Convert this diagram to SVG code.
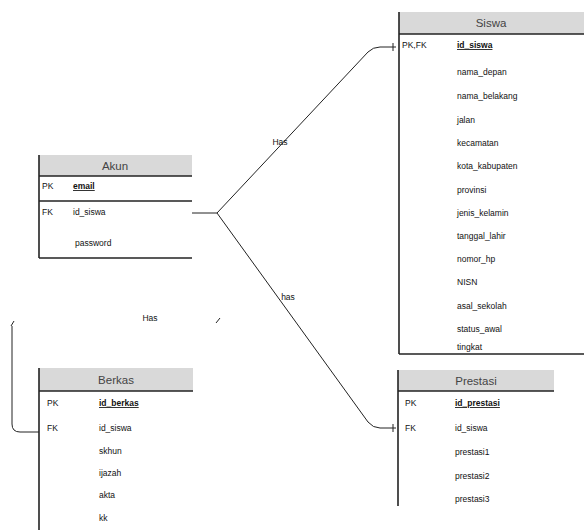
<svg xmlns="http://www.w3.org/2000/svg" width="584" height="530" viewBox="0 0 584 530">
  <style>
    text { font-family: "Liberation Sans", Arial, sans-serif; fill: #111; }
    .title { font-size: 11.5px; text-anchor: middle; fill: #444; }
    .key { font-size: 8.5px; }
    .field { font-size: 8.5px; }
    .pk { text-decoration: underline; font-weight: bold; }
    .head { fill: #d9d9d9; stroke: none; }
    .rule { stroke: #222; stroke-width: 1.6; fill: none; }
    .edge { stroke: #222; stroke-width: 1; fill: none; }
    .lbl { font-size: 8.5px; text-anchor: middle; }
  </style>

  <!-- relationship lines -->
  <g id="connectors">
    <path class="edge" d="M192,213 H217 L368,52 Q373,47 380,47 H396"/>
    <line class="edge" x1="393" y1="43" x2="393" y2="51"/>
    <path class="edge" d="M217,213 L368,422 Q373,428 380,428 H396"/>
    <line class="edge" x1="393" y1="424" x2="393" y2="432"/>
    <path class="edge" d="M12,326 V424 Q12,432 20,432 H39"/>
    <path class="edge" d="M11,326 L14,321"/>
    <path class="edge" d="M216,323 L220,318"/>
    <text class="lbl" x="280" y="145">Has</text>
    <text class="lbl" x="288" y="300">has</text>
    <text class="lbl" x="150" y="321">Has</text>
  </g>

  <!-- Siswa -->
  <g id="siswa">
    <rect class="head" x="399" y="12" width="185" height="22"/>
    <line class="rule" x1="399" y1="12" x2="399" y2="354"/>
    <line class="rule" x1="399" y1="34" x2="584" y2="34"/>
    <line class="rule" x1="399" y1="354" x2="584" y2="354"/>
    <text class="title" x="491" y="27">Siswa</text>
    <text class="key" x="402" y="48">PK,FK</text>
    <text class="field pk" x="457" y="48">id_siswa</text>
    <text class="field" x="457" y="75">nama_depan</text>
    <text class="field" x="457" y="99">nama_belakang</text>
    <text class="field" x="457" y="123">jalan</text>
    <text class="field" x="457" y="146">kecamatan</text>
    <text class="field" x="457" y="169">kota_kabupaten</text>
    <text class="field" x="457" y="193">provinsi</text>
    <text class="field" x="457" y="216">jenis_kelamin</text>
    <text class="field" x="457" y="239">tanggal_lahir</text>
    <text class="field" x="457" y="262">nomor_hp</text>
    <text class="field" x="457" y="285">NISN</text>
    <text class="field" x="457" y="309">asal_sekolah</text>
    <text class="field" x="457" y="332">status_awal</text>
    <text class="field" x="457" y="350">tingkat</text>
  </g>

  <!-- Akun -->
  <g id="akun">
    <rect class="head" x="39" y="155" width="153" height="21"/>
    <line class="rule" x1="39" y1="155" x2="39" y2="258"/>
    <line class="rule" x1="39" y1="176" x2="192" y2="176"/>
    <line class="rule" x1="39" y1="201" x2="192" y2="201"/>
    <line class="rule" x1="39" y1="258" x2="192" y2="258"/>
    <text class="title" x="115" y="170">Akun</text>
    <text class="key" x="42" y="189">PK</text>
    <text class="field pk" x="73" y="189">email</text>
    <text class="key" x="42" y="215">FK</text>
    <text class="field" x="73" y="215">id_siswa</text>
    <text class="field" x="75" y="246">password</text>
  </g>

  <!-- Berkas -->
  <g id="berkas">
    <rect class="head" x="39" y="368" width="154" height="23"/>
    <line class="rule" x1="39" y1="368" x2="39" y2="530"/>
    <line class="rule" x1="39" y1="391" x2="193" y2="391"/>
    <text class="title" x="116" y="384">Berkas</text>
    <text class="key" x="47" y="406">PK</text>
    <text class="field pk" x="99" y="406">id_berkas</text>
    <text class="key" x="47" y="431">FK</text>
    <text class="field" x="99" y="431">id_siswa</text>
    <text class="field" x="99" y="454">skhun</text>
    <text class="field" x="99" y="476">ijazah</text>
    <text class="field" x="99" y="498">akta</text>
    <text class="field" x="99" y="521">kk</text>
  </g>

  <!-- Prestasi -->
  <g id="prestasi">
    <rect class="head" x="398" y="370" width="156" height="21"/>
    <line class="rule" x1="398" y1="370" x2="398" y2="506"/>
    <line class="rule" x1="398" y1="391" x2="554" y2="391"/>
    <text class="title" x="476" y="385">Prestasi</text>
    <text class="key" x="405" y="406">PK</text>
    <text class="field pk" x="455" y="406">id_prestasi</text>
    <text class="key" x="405" y="431">FK</text>
    <text class="field" x="455" y="431">id_siswa</text>
    <text class="field" x="455" y="455">prestasi1</text>
    <text class="field" x="455" y="479">prestasi2</text>
    <text class="field" x="455" y="502">prestasi3</text>
  </g>
</svg>
